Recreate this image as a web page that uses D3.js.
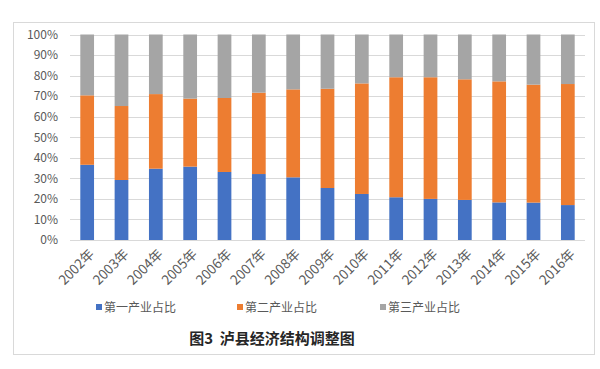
<!DOCTYPE html>
<html><head><meta charset="utf-8">
<script src="https://cdn.jsdelivr.net/npm/d3@7"></script>
<style>body{margin:0;background:#fff;}svg{display:block;}</style>
</head><body>
<script>
const categories = ["2002年","2003年","2004年","2005年","2006年","2007年","2008年","2009年","2010年","2011年","2012年","2013年","2014年","2015年","2016年"];
const primary   = [36.6,29.2,34.7,35.7,33.1,32.1,30.5,25.3,22.4,20.8,20.0,19.5,18.3,18.2,17.0];
const secondary = [33.8,36.0,36.3,33.1,36.0,39.6,42.8,48.3,53.8,58.4,59.2,58.7,58.9,57.4,58.9];
const tertiary  = [29.6,34.8,29.0,31.2,30.9,28.3,26.7,26.4,23.8,20.8,20.8,21.8,22.8,24.4,24.1];
const seriesNames = ["第一产业占比","第二产业占比","第三产业占比"];
const colors = ["#4472C4","#ED7D31","#A5A5A5"];
const yTicks = [0,10,20,30,40,50,60,70,80,90,100];
const title = "图3  泸县经济结构调整图";

const W=600,H=369;
const svg=d3.select("body").append("svg").attr("width",W).attr("height",H);
const font="'Noto Sans CJK SC','Noto Sans',sans-serif";
svg.append("rect").attr("x",13.5).attr("y",22.5).attr("width",581).attr("height",332)
  .attr("fill","#fff").attr("stroke","#d9d9d9");

const x=d3.scaleBand().domain(categories).range([70,585]).paddingInner(0.6).paddingOuter(0.3);
const y=d3.scaleLinear().domain([0,100]).range([240,34.5]);

const g=svg.append("g");
g.selectAll("line.grid").data(yTicks).join("line")
  .attr("x1",70).attr("x2",585).attr("y1",d=>Math.round(y(d))+0.5).attr("y2",d=>Math.round(y(d))+0.5)
  .attr("stroke","#d9d9d9").attr("stroke-width",1);

const rows=categories.map((c,i)=>({cat:c,s0:primary[i],s1:secondary[i],s2:tertiary[i]}));
const stack=d3.stack().keys(["s0","s1","s2"])(rows);
stack.forEach((layer,k)=>{
  g.selectAll(null).data(layer).join("rect")
    .attr("x",d=>x(d.data.cat)).attr("width",x.bandwidth())
    .attr("y",d=>y(d[1])).attr("height",d=>y(d[0])-y(d[1]))
    .attr("fill",colors[k]);
});

const yAxis=d3.axisLeft(y).tickValues(yTicks).tickFormat(d=>d+"%").tickSize(0).tickPadding(12);
const ya=svg.append("g").attr("transform","translate(70,0)").call(yAxis);
ya.select(".domain").remove();
ya.selectAll("text").attr("font-family",font).attr("font-size",12).attr("fill","#595959");

const xAxis=d3.axisBottom(x).tickSize(0).tickPadding(0);
const xa=svg.append("g").attr("transform","translate(0,240)").call(xAxis);
xa.select(".domain").remove();
xa.selectAll("text").attr("font-family",font).attr("font-size",13.5).attr("fill","#595959")
  .attr("text-anchor","end").attr("dy","0")
  .attr("transform","translate(8,15) rotate(-45)");

const legX=[96,237,380];
const leg=svg.append("g");
seriesNames.forEach((n,i)=>{
  leg.append("rect").attr("x",legX[i]).attr("y",304).attr("width",6).attr("height",6).attr("fill",colors[i]);
  leg.append("text").attr("x",legX[i]+8).attr("y",312).text(n)
    .attr("font-family",font).attr("font-size",12).attr("fill","#595959");
});

svg.append("text").attr("x",272).attr("y",344).attr("text-anchor","middle").text(title)
  .attr("font-family",font).attr("font-size",15).attr("font-weight","bold").attr("fill","#262626")
  .attr("xml:space","preserve").style("white-space","pre");
</script>
</body></html>
